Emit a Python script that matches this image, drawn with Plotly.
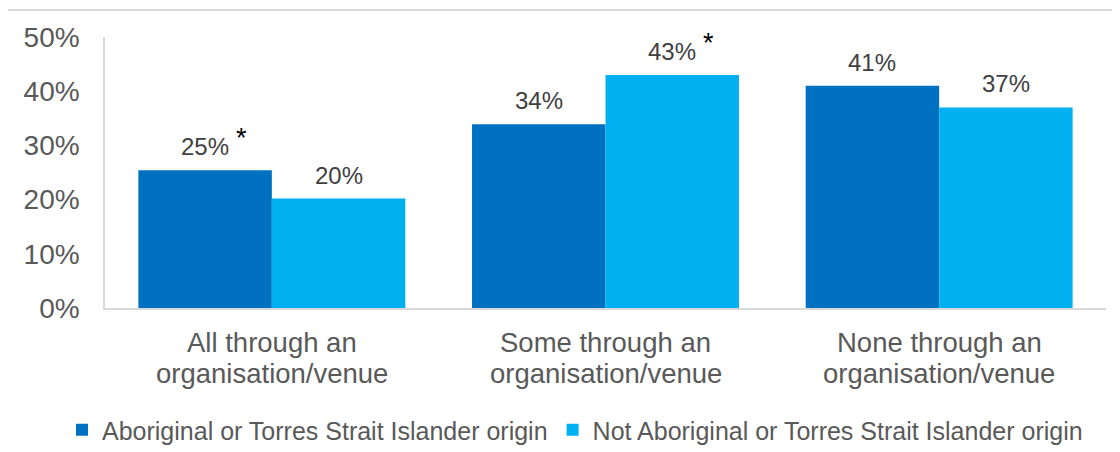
import plotly.graph_objects as go

categories_line1 = ["All through an", "Some through an", "None through an"]
categories_line2 = ["organisation/venue", "organisation/venue", "organisation/venue"]
series_names = ["Aboriginal or Torres Strait Islander origin",
                "Not Aboriginal or Torres Strait Islander origin"]
aboriginal = [25.4, 33.9, 41.0]
not_aboriginal = [20.2, 43.0, 37.0]
aboriginal_sig = [True, False, False]
not_aboriginal_sig = [False, True, False]
y_ticks = [0, 10, 20, 30, 40, 50]
y_tick_labels = ["0%", "10%", "20%", "30%", "40%", "50%"]

colors = ["#0070C0", "#00B0F0"]
FONT = "Arial, Liberation Sans, sans-serif"

# page body has an 8px margin: screen = figure + 8
OFF = 8
PL, PR, PT, PB = 105, 1106, 37, 308  # plot area on screen
PH = PB - PT
PW = PR - PL

xs = list(range(len(categories_line1)))
series = [aboriginal, not_aboriginal]
sigs = [aboriginal_sig, not_aboriginal_sig]
offsets = [-0.2, 0.2]

fig = go.Figure()
for name, vals, col in zip(series_names, series, colors):
    fig.add_trace(go.Bar(x=xs, y=vals, name=name, marker=dict(color=col, line=dict(width=0))))

annotations = []
for vals, sg, off in zip(series, sigs, offsets):
    for i, (v, s) in enumerate(zip(vals, sg)):
        annotations.append(dict(x=i + off, y=v, xref="x", yref="y", text=f"{round(v)}%",
                                showarrow=False, yanchor="bottom", yshift=8,
                                font=dict(family=FONT, size=24, color="#404040")))
        if s:
            annotations.append(dict(x=i + off, y=v, xref="x", yref="y", text="*",
                                    showarrow=False, yanchor="bottom", yshift=15, xshift=36,
                                    font=dict(family=FONT, size=27, color="#000000")))

for i, (l1, l2) in enumerate(zip(categories_line1, categories_line2)):
    annotations.append(dict(x=i, y=(PB - 342) / PH, xref="x", yref="paper", text=l1,
                            showarrow=False, yanchor="middle",
                            font=dict(family=FONT, size=27.5, color="#595959")))
    annotations.append(dict(x=i, y=(PB - 373) / PH, xref="x", yref="paper", text=l2,
                            showarrow=False, yanchor="middle",
                            font=dict(family=FONT, size=27.5, color="#595959")))

fig.update_layout(
    width=1120, height=452,
    margin=dict(l=PL - OFF, r=1120 - PR + OFF, t=PT - OFF, b=452 - PB + OFF, autoexpand=False),
    paper_bgcolor="white", plot_bgcolor="white",
    barmode="group", bargap=0.2, bargroupgap=0,
    font=dict(family=FONT, color="#595959"),
    annotations=annotations,
    legend=dict(orientation="h", xref="paper", x=(62 - PL) / PW, xanchor="left",
                yref="paper", y=(PB - 430) / PH, yanchor="middle",
                font=dict(family=FONT, size=25, color="#595959"), itemwidth=30,
                tracegroupgap=0, bgcolor="rgba(0,0,0,0)"),
    xaxis=dict(range=[-0.5, 2.5], showticklabels=False, showline=True, linecolor="#d9d9d9",
               linewidth=1.5, showgrid=False, zeroline=False, ticks=""),
    yaxis=dict(range=[0, 50], tickvals=y_ticks, ticktext=y_tick_labels, showline=True,
               linecolor="#d9d9d9", linewidth=1.5, showgrid=False, zeroline=False,
               ticks="", ticklabelstandoff=18,
               tickfont=dict(family=FONT, size=28, color="#595959")),
    shapes=[dict(type="rect", xref="paper", yref="paper",
                 x0=(7 - PL) / PW, x1=(1130 - PL) / PW,
                 y0=(PB - 470) / PH, y1=(PB - 10) / PH,
                 line=dict(color="#d9d9d9", width=2), fillcolor="rgba(0,0,0,0)", layer="below")],
)

fig.write_html("out.html")
